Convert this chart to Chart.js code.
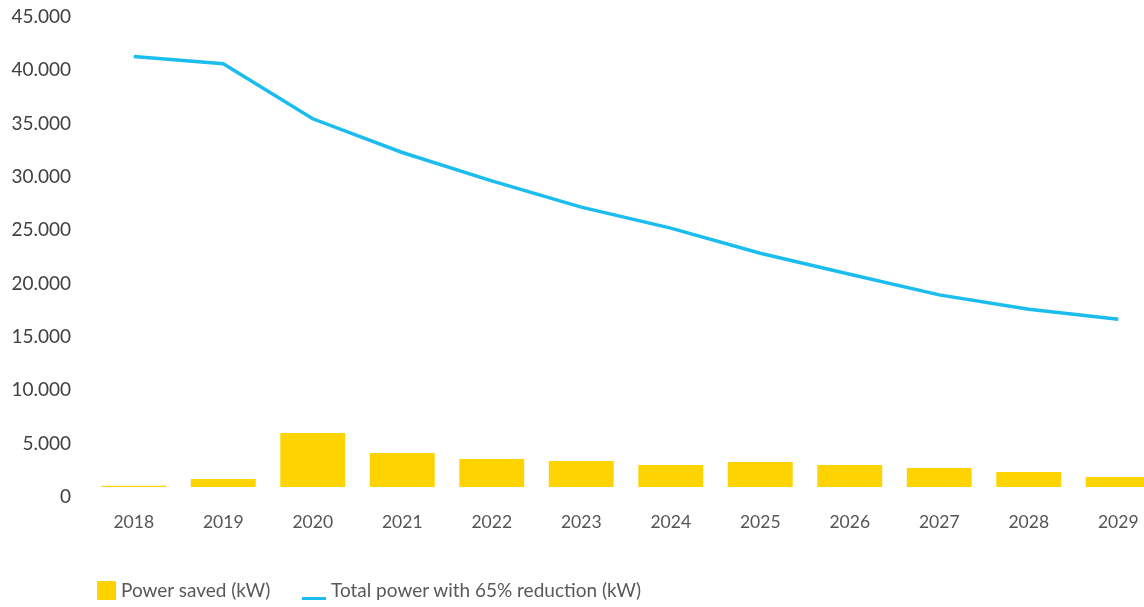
<!DOCTYPE html>
<html>
<head>
<meta charset="utf-8">
<script src="https://cdn.jsdelivr.net/npm/chart.js@4"></script>
<style>
  html, body { margin: 0; padding: 0; overflow: hidden; background: #fff; }
  #wrap { position: relative; width: 1163px; height: 607px; }
  .legend { position: absolute; top: 579px; font-family: Lato, sans-serif; font-size: 19px; line-height: 22px; color: #595959; white-space: nowrap; }
  .legend span.box { display: inline-block; width: 19px; height: 19px; background: #FFD300; vertical-align: -3px; margin-right: 5px; }
  .legend span.ln { display: inline-block; width: 24px; height: 3px; background: #1BBDEF; vertical-align: -3px; margin-right: 5px; }
</style>
</head>
<body>
<div id="wrap">
  <canvas id="chart"></canvas>
  <div class="legend" style="left:97px"><span class="box"></span>Power saved (kW)</div>
  <div class="legend" style="left:302px"><span class="ln"></span>Total power with 65% reduction (kW)</div>
</div>
<script>
// categories and series
const years = ['2018', '2019', '2020', '2021', '2022', '2023', '2024', '2025', '2026', '2027', '2028', '2029'];
const powerSaved = [120, 750, 5070, 3190, 2630, 2440, 2060, 2350, 2060, 1780, 1400, 940];
const totalPower = [40360, 39680, 34520, 31360, 28700, 26240, 24270, 21920, 19950, 18010, 16670, 15730];

const fmt = v => v === 0 ? '0' : v.toLocaleString('de-DE');

new Chart(document.getElementById('chart'), {
  data: {
    labels: years,
    datasets: [
      {
        type: 'line',
        label: 'Total power with 65% reduction (kW)',
        data: totalPower,
        borderColor: '#1BBDEF',
        borderWidth: 3.5,
        pointRadius: 0,
        tension: 0,
        order: 0
      },
      {
        type: 'bar',
        label: 'Power saved (kW)',
        data: powerSaved,
        backgroundColor: '#FFD300',
        categoryPercentage: 1,
        barPercentage: 0.725,
        order: 1
      }
    ]
  },
  options: {
    responsive: true,
    maintainAspectRatio: false,
    animation: false,
    layout: { padding: { top: 7, left: 0, right: 0, bottom: 0 } },
    scales: {
      x: {
        grid: { display: false, drawTicks: false },
        border: { display: false },
        ticks: { color: '#555555', font: { family: 'Lato, sans-serif', size: 17.5 }, padding: 25, maxRotation: 0 },
        afterFit: s => { s.height = 120; s.paddingLeft = 0; s.paddingRight = 0; }
      },
      y: {
        min: 0,
        max: 45000,
        grid: { display: false, drawTicks: false },
        border: { display: false },
        ticks: { stepSize: 5000, color: '#404040', font: { family: 'Lato, sans-serif', size: 19 }, padding: 18, labelOffset: 10, callback: fmt },
        afterFit: s => { s.width = 89; s.paddingTop = 0; s.paddingBottom = 0; }
      }
    },
    plugins: {
      legend: { display: false },
      tooltip: { enabled: false }
    }
  }
});
</script>
</body>
</html>
